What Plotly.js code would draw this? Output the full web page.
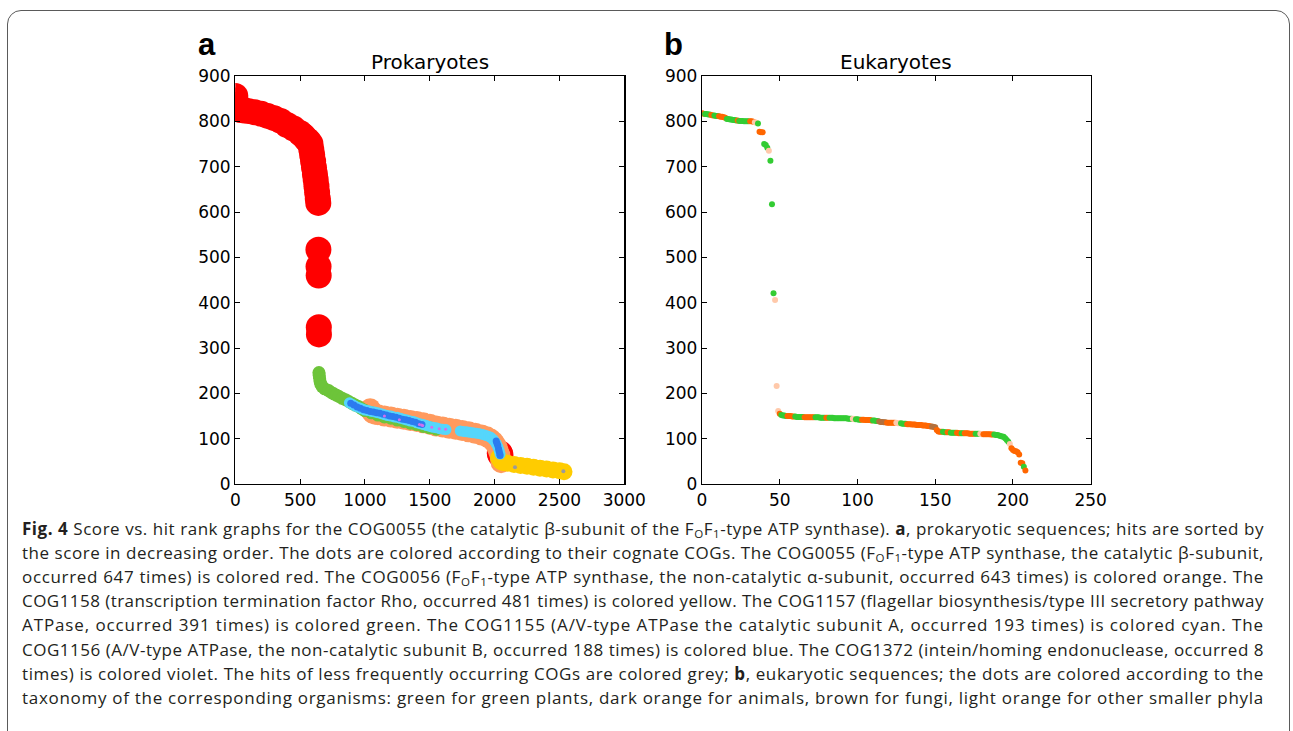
<!DOCTYPE html>
<html><head><meta charset="utf-8">
<script src="https://cdn.plot.ly/plotly-3.0.1.min.js"></script>
<style>
html,body{margin:0;padding:0;background:#fff;width:1293px;height:731px;overflow:hidden;}
#plot{position:absolute;left:0;top:0;width:1293px;height:731px;}
#frame{position:absolute;left:7px;top:10px;width:1281px;height:770px;border:1.3px solid #5a5a5a;border-radius:14px;pointer-events:none;}
.cap{position:absolute;left:22px;white-space:nowrap;font-family:'Open Sans',sans-serif;font-size:15px;color:#231f20;line-height:24px;height:24px;}
.cap b{font-weight:700;}
.cap sub{font-size:0.68em;vertical-align:-0.3em;line-height:0;}
</style></head>
<body>
<div id="plot"></div>
<div id="frame"></div>
<div id="caption">
<div class="cap"><b>Fig. 4</b> Score vs. hit rank graphs for the COG0055 (the catalytic β-subunit of the F<sub>O</sub>F<sub>1</sub>-type ATP synthase). <b>a</b>, prokaryotic sequences; hits are sorted by</div>
<div class="cap">the score in decreasing order. The dots are colored according to their cognate COGs. The COG0055 (F<sub>O</sub>F<sub>1</sub>-type ATP synthase, the catalytic β-subunit,</div>
<div class="cap">occurred 647 times) is colored red. The COG0056 (F<sub>O</sub>F<sub>1</sub>-type ATP synthase, the non-catalytic α-subunit, occurred 643 times) is colored orange. The</div>
<div class="cap">COG1158 (transcription termination factor Rho, occurred 481 times) is colored yellow. The COG1157 (flagellar biosynthesis/type III secretory pathway</div>
<div class="cap">ATPase, occurred 391 times) is colored green. The COG1155 (A/V-type ATPase the catalytic subunit A, occurred 193 times) is colored cyan. The</div>
<div class="cap">COG1156 (A/V-type ATPase, the non-catalytic subunit B, occurred 188 times) is colored blue. The COG1372 (intein/homing endonuclease, occurred 8</div>
<div class="cap">times) is colored violet. The hits of less frequently occurring COGs are colored grey; <b>b</b>, eukaryotic sequences; the dots are colored according to the</div>
<div class="cap">taxonomy of the corresponding organisms: green for green plants, dark orange for animals, brown for fungi, light orange for other smaller phyla</div>
</div>
<script>
// ---------- Panel a: prokaryotes (hit rank vs score), sampled along each COG's band ----------
const redRank   = [0,2,5,10,20,40,70,100,150,200,250,300,350,400,450,500,525,550,565,580,586,593,600,607,614,620,626,631,636,640,641,642,643,644,645,2040,2045];
const redScore  = [856,846,836,830,827,825,824,823,820,817,812,807,801,792,784,774,768,760,756,750,738,726,712,698,684,671,657,643,630,620,517,480,460,346,330,68,64];

const orangeRank  = [1040,1050,1060,1080,1100,1150,1200,1250,1300,1350,1400,1450,1500,1550,1600,1650,1700,1750,1800,1850,1900,1940,1970,1990,2005,2020,2030,2040,2045,2050];
const orangeScore = [166,160,156,154,153,150,148,145,143,140,138,135,132,128,126,123,121,118,115,112,108,104,99,94,88,80,72,64,55,47];

const yellowRank  = [2030,2040,2050,2070,2100,2150,2200,2250,2300,2350,2400,2450,2500,2535];
const yellowScore = [58,53,49,47,46,43,41,39,37,35,33,31,29,27];

const greenRank  = [645,647,650,654,660,670,690,720,740,760,780,800,825,850,875,900,925,950,975,1000,1050,1100,1150,1200,1250,1300,1350,1400,1450,1500,1550];
const greenScore = [246,240,233,226,220,215,210,206,202,199,196,193,189,186,182,178,174,171,166,162,157,152,148,145,141,138,134,131,127,124,121];

const cyanRank  = [880,900,925,950,975,1000,1025,1050,1075,1100,1125,1150,1175,1200,1225,1250,1275,1300,1325,1350,1375,1400,1425,1450,1475,1500,1525,1550,1575,1600,1625,
                   1735,1760,1785,1810,1835,1860,1885,1910,1935,1955,1970,1985,1995,2005,2015,2025,2035,2042];
const cyanScore = [179,176,172,169,166,163,162,160,159,157,155,153,151,150,148,147,145,143,141,139,138,135,133,131,129,127,125,124,122,121,120,
                   117,116,115,114,113,112,111,109,107,105,103,99,96,92,88,82,74,66];

const blueRank  = [890,915,940,965,990,1015,1040,1065,1090,1115,1140,1165,1190,1215,1240,1265,1290,1315,1340,1365,1390,1415,1440,
                   2012,2018,2024,2030,2035,2040,2042];
const blueScore = [178,174,170,167,164,162,160,159,157,156,154,152,150,149,147,145,143,142,140,138,136,133,131,
                   95,90,85,78,72,66,63];

const violetRank  = [1150,1265,1420,1437,1445,1515,1573,1622];
const violetScore = [150,142,131,130,129,125,122,121];

const greyRank  = [2157,2530];
const greyScore = [37,28];

// ---------- Panel b: eukaryotes (rank 0..208), taxon codes: G green plants, O animals, B fungi, P other phyla ----------
const eukScore = [
818,817,816,816,815,815,814,813,813,812,812,811,810,810,809,808,805,805,804,804,
803,803,802,802,801,801,801,800,800,800,800,800,800,799,798,797,795,777,776,776,
750,748,742,735,713,617,421,406,216,161,
155,152,151,151,150,150,150,150,149,149,149,148,148,148,148,148,147,147,147,147,
147,147,147,147,147,147,146,146,146,146,146,146,146,146,146,145,145,145,145,145,
145,145,145,145,144,144,144,144,143,143,143,142,142,142,142,141,141,141,141,140,
140,140,139,139,138,137,137,136,136,135,135,135,135,135,135,135,134,134,134,133,
133,133,132,132,132,131,131,131,130,130,130,130,129,129,129,128,128,127,127,126,
125,119,116,115,115,115,114,114,114,114,113,113,113,113,113,112,112,112,112,112,
112,112,111,111,111,111,111,111,111,111,110,110,110,110,110,110,109,109,109,108,
108,107,106,105,104,101,97,93,88,79,75,73,72,70,65,47,46,38,30];
const eukTaxon = (
"OOGGGGOOGGGOOOOOGGGG" +
"GGGOGGGGGGGOOOPPGOOO" +
"GGGPGGGPPP" +
"OGGGGOOOOOGGGGGGOOOO" +
"OOOGGGGGGGOOGGGGGGGG" +
"GGGGGGGPPGGGGOOOOOOO" +
"GGGGBBBBBOOOOOOPPPGG" +
"GGOOOOOOOOOOOOOOOOBB" +
"BOOOOGGGOOGGGGOOOGGO" +
"OOOOOOGGGPPOOOOOOOGG" +
"GGGGGGGGPOOOOOOOOGO").split("");
const taxonColor = {G:"#33cc33", O:"#ff6600", B:"#b3703c", P:"#ffc9aa"};

const yTicks = [0,100,200,300,400,500,600,700,800,900];
const prokXTicks = [0,500,1000,1500,2000,2500,3000];
const eukXTicks = [0,50,100,150,200,250];

const eukRank = eukScore.map((_, i) => i);

function sc(x, y, color, size, xa, ya) {
  return {type:"scatter", mode:"markers", x:x, y:y, xaxis:xa, yaxis:ya, hoverinfo:"skip",
          marker:{color:color, size:size, line:{width:0}}, showlegend:false};
}
const traces = [
  sc(redRank, redScore, "#ff0000", 26, "x", "y"),
  sc(orangeRank, orangeScore, "#ff9a5e", 21, "x", "y"),
  sc(yellowRank, yellowScore, "#ffcc00", 17, "x", "y"),
  sc(greenRank, greenScore, "#6dc43a", 13, "x", "y"),
  sc(cyanRank, cyanScore, "#55d6fb", 11, "x", "y"),
  sc(blueRank, blueScore, "#2c7bef", 7, "x", "y"),
  sc(violetRank, violetScore, "#d070f0", 3, "x", "y"),
  sc(greyRank, greyScore, "#9a9a9a", 4, "x", "y"),
  sc(eukRank, eukScore, eukTaxon.map(t => taxonColor[t] || "#ff6600"), 6, "x2", "y2")
];

const W = 1293, H = 731;
const tickFont = {family:"DejaVu Sans", size:17, color:"#000"};
function ax(range, ticks, domain, anchor) {
  return {range:range, tickvals:ticks, ticktext:ticks.map(String), domain:domain, anchor:anchor,
          showline:true, mirror:"ticks", linecolor:"#000", linewidth:1.2,
          ticks:"inside", ticklen:5, tickwidth:1, tickcolor:"#000",
          showgrid:false, zeroline:false, tickfont:tickFont, fixedrange:true};
}
const yDom = [(H-484)/H, (H-76)/H];
const layout = {
  width:W, height:H, margin:{l:0,r:0,t:0,b:0}, paper_bgcolor:"rgba(0,0,0,0)", plot_bgcolor:"#fff",
  showlegend:false,
  xaxis: ax([0,3000], prokXTicks, [235.3/W, 624.3/W], "y"),
  yaxis: ax([0,900], yTicks, yDom, "x"),
  xaxis2: ax([0,250], eukXTicks, [702/W, 1090.7/W], "y2"),
  yaxis2: ax([0,900], yTicks, yDom, "x2"),
  annotations:[
    {text:"<b>a</b>", xref:"paper", yref:"paper", x:196/W, y:1-44/H, xanchor:"left", yanchor:"middle", showarrow:false,
     font:{family:"Liberation Sans", size:31, color:"#000"}},
    {text:"<b>b</b>", xref:"paper", yref:"paper", x:662/W, y:1-44/H, xanchor:"left", yanchor:"middle", showarrow:false,
     font:{family:"Liberation Sans", size:31, color:"#000"}},
    {text:"Prokaryotes", xref:"paper", yref:"paper", x:429.8/W, y:1-62/H, xanchor:"center", yanchor:"middle", showarrow:false,
     font:{family:"DejaVu Sans", size:20, color:"#000"}},
    {text:"Eukaryotes", xref:"paper", yref:"paper", x:896.3/W, y:1-62/H, xanchor:"center", yanchor:"middle", showarrow:false,
     font:{family:"DejaVu Sans", size:20, color:"#000"}}
  ]
};
Plotly.newPlot("plot", traces, layout, {displayModeBar:false, staticPlot:true});

// caption lines: size the font so lines nearly fill the width, then fill exactly with letter spacing
const caps = Array.from(document.querySelectorAll(".cap"));
const target = 1264 - 22;
let ratio = Infinity;
caps.forEach(el => { ratio = Math.min(ratio, target / el.getBoundingClientRect().width); });
const fs = Math.min(17, 15 * ratio * 0.985);
caps.forEach((el, i) => {
  el.style.fontSize = fs + "px";
  el.style.top = (517 + i*24.1) + "px";
  const w = el.getBoundingClientRect().width;
  const n = el.textContent.length;
  el.style.letterSpacing = ((target - w) / n) + "px";
});
</script>
</body></html>
